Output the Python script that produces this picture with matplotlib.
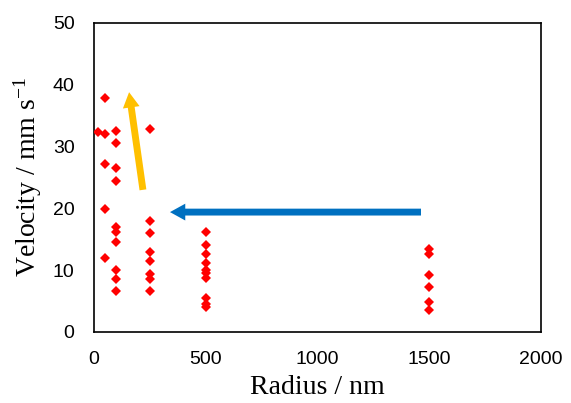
import numpy as np
import matplotlib
matplotlib.use('Agg')
import matplotlib.pyplot as plt

plt.rcParams['mathtext.default'] = 'regular'

# radius groups (nm) and measured velocities (mm/s)
r_20 = [20]
v_20 = [32.3]
r_50 = [50] * 5
v_50 = [37.8, 32.0, 27.2, 19.9, 11.9]
r_100 = [100] * 10
v_100 = [32.5, 30.5, 26.5, 24.4, 17.0, 16.1, 14.6, 10.1, 8.5, 6.7]
r_250 = [250] * 8
v_250 = [32.9, 17.9, 16.0, 12.9, 11.5, 9.4, 8.6, 6.7]
r_500 = [500] * 10
v_500 = [16.1, 14.1, 12.7, 11.1, 10.1, 9.5, 8.7, 5.5, 4.6, 4.0]
r_1500 = [1500] * 6
v_1500 = [13.5, 12.7, 9.2, 7.2, 4.9, 3.6]

radius = np.array(r_20 + r_50 + r_100 + r_250 + r_500 + r_1500)
velocity = np.array(v_20 + v_50 + v_100 + v_250 + v_500 + v_1500)

# arrows: (tail, head) in data units
orange_arrow = [(219, 23.0), (157, 38.8)]
blue_arrow = [(1463, 19.4), (340, 19.4)]

fig = plt.figure(figsize=(5.71, 4.03), dpi=100)
ax = fig.add_axes([0.1646, 0.1762, 0.7829, 0.7668])

ax.plot(radius, velocity, 'D', color='#ff0000', markersize=5.2,
        markeredgewidth=0, linestyle='none', zorder=3)

for (tail, head), col in [(orange_arrow, '#ffc000'), (blue_arrow, '#0070c0')]:
    ax.annotate('', xy=head, xytext=tail,
                arrowprops=dict(arrowstyle='simple,head_length=1.0,head_width=1.1,tail_width=0.45',
                                color=col, lw=0, shrinkA=0, shrinkB=0,
                                mutation_scale=11), zorder=2)

ax.set_xlim(0, 2000)
ax.set_ylim(0, 50)
ax.set_xticks([0, 500, 1000, 1500, 2000])
ax.set_yticks([0, 10, 20, 30, 40, 50])
ax.tick_params(length=0, labelsize=14, pad=14)
for lab in ax.get_xticklabels() + ax.get_yticklabels():
    lab.set_fontfamily('Liberation Sans')
for s in ax.spines.values():
    s.set_linewidth(1.2)
    s.set_color('black')

ax.set_xlabel('Radius / nm', family='Liberation Serif', fontsize=20, labelpad=5)
ax.set_ylabel('Velocity / mm s$^{-1}$', family='Liberation Serif', fontsize=20, labelpad=6)

fig.savefig('out.png', dpi=100)
